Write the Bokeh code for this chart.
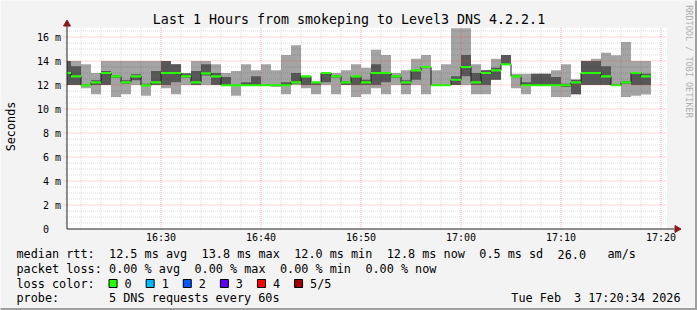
import numpy as np
from bokeh.plotting import figure
from bokeh.models import Range1d, Label, FixedTicker
from bokeh.embed import file_html
from bokeh.resources import INLINE

# ---------------- data (ms), one column per minute after 16:00 ----------------
minutes = list(range(20, 79))
rtt_min = [12.00, 12.00, 11.72, 11.22, 12.00, 11.00, 11.22, 12.00, 11.11, 12.00,
           11.72, 11.22, 12.00, 12.00, 12.00, 12.00, 11.97, 11.11, 11.97, 11.97,
           11.97, 11.83, 11.22, 12.00, 11.72, 11.22, 12.00, 11.22, 12.00, 11.00,
           11.22, 11.72, 11.22, 12.00, 11.22, 12.00, 11.22, 11.97, 11.97, 12.00,
           12.00, 11.22, 11.22, 12.44, 13.72, 11.72, 11.22, 11.97, 11.97, 11.00,
           11.00, 11.22, 12.00, 12.00, 12.00, 11.97, 11.00, 11.10, 11.20]
rtt_p2 = [12.00, 12.00, 11.95, 12.00, 12.00, 12.60, 12.10, 12.40, 11.95, 12.00,
          12.00, 12.22, 12.60, 12.00, 12.80, 12.00, 11.97, 11.95, 11.97, 11.97,
          11.97, 11.95, 11.97, 12.11, 12.00, 12.00, 12.22, 12.60, 12.00, 12.00,
          12.00, 12.00, 12.22, 12.60, 12.00, 12.44, 13.40, 11.97, 11.97, 12.00,
          12.72, 12.00, 12.00, 12.44, 13.72, 12.65, 11.97, 11.97, 11.97, 11.97,
          11.83, 11.22, 12.00, 12.00, 12.00, 11.97, 12.11, 12.00, 12.00]
rtt_median = [13.00, 12.72, 11.97, 12.22, 13.00, 12.72, 12.22, 12.72, 11.97, 12.22,
              13.00, 13.00, 12.72, 12.22, 12.97, 12.72, 11.98, 11.97, 11.98, 11.98,
              11.98, 11.98, 11.98, 12.22, 12.72, 12.22, 13.00, 12.72, 12.22, 12.72,
              12.22, 13.00, 13.00, 12.72, 12.22, 13.22, 13.50, 11.98, 11.98, 12.44,
              13.50, 12.22, 13.00, 13.22, 13.72, 12.72, 11.98, 11.98, 11.98, 11.98,
              11.98, 12.22, 13.00, 13.00, 12.72, 11.98, 12.22, 13.00, 12.72]
rtt_p4 = [14.00, 13.56, 12.05, 12.39, 13.17, 12.80, 12.40, 12.90, 12.11, 13.17,
          14.00, 13.72, 12.95, 13.17, 13.72, 13.00, 12.67, 12.00, 12.22, 12.72,
          12.00, 12.00, 12.22, 13.00, 12.74, 12.24, 13.00, 12.80, 12.33, 12.74,
          12.44, 13.72, 13.00, 12.80, 12.39, 13.24, 13.55, 12.00, 12.00, 12.72,
          14.50, 13.00, 13.22, 13.44, 14.50, 12.80, 12.22, 12.94, 12.94, 12.67,
          12.11, 12.44, 14.00, 14.00, 13.56, 12.05, 12.33, 13.00, 12.94]
rtt_max = [14.00, 14.00, 13.72, 13.00, 14.00, 14.00, 14.00, 14.00, 14.00, 14.00,
           14.00, 13.72, 13.00, 14.00, 14.00, 13.72, 13.00, 13.17, 13.72, 13.22,
           13.72, 13.22, 14.50, 15.31, 12.75, 12.25, 13.02, 13.00, 13.22, 13.72,
           13.44, 14.94, 14.50, 13.00, 13.22, 14.19, 14.50, 13.22, 13.72, 16.72,
           16.72, 13.72, 13.24, 14.19, 14.50, 12.94, 12.94, 12.94, 12.94, 13.22,
           13.72, 12.46, 14.02, 14.19, 14.69, 14.47, 15.58, 14.00, 14.00]

x_tick_minutes = [30, 40, 50, 60, 70, 80]
x_tick_labels = ["16:30", "16:40", "16:50", "17:00", "17:10", "17:20"]
y_ticks = [0, 2, 4, 6, 8, 10, 12, 14, 16]
y_tick_labels = ["0\u00a0\u00a0", "2 m", "4 m", "6 m", "8 m", "10 m", "12 m", "14 m", "16 m"]

loss_labels = ["0", "1", "2", "3", "4", "5/5"]
loss_colors = ["#26ff00", "#00b8ff", "#0059ff", "#5e00ff", "#ff0000", "#a10000"]

title_text = "Last 1 Hours from smokeping to Level3 DNS 4.2.2.1"
stats_rtt = ["median rtt:", "12.5 ms avg", "13.8 ms max", "12.0 ms min", "12.8 ms now", "0.5 ms sd", "26.0", "am/s"]
stats_loss = ["packet loss:", "0.00 % avg", "0.00 % max", "0.00 % min", "0.00 % now"]
probe_text = ["probe:", "5 DNS requests every 60s"]
date_text = ["Tue Feb", "3 17:20:34 2026"]

# ---------------- layout constants ----------------
W, H = 697, 310
MONO = "DejaVu Sans Mono"
T0 = 20.6           # graph starts ~16:20:36
SPAN = 60.0
TOP = 16.77
X0PX, Y0PX = 66.5, 228.5        # pixel of (T0, 0 ms)
PXMIN, PXMS = 10.0, 12.0        # px per minute, px per ms
CW = 7.12                       # legend character cell

p = figure(width=W, height=H, output_backend="svg", toolbar_location=None,
           x_range=Range1d(T0 - X0PX / PXMIN, T0 + (W - X0PX) / PXMIN),
           y_range=Range1d(-(H - Y0PX) / PXMS, Y0PX / PXMS),
           min_border=0, min_border_left=0, min_border_right=0, min_border_top=0, min_border_bottom=0)
p.title.visible = False
p.background_fill_color = "#f3f3f3"
p.border_fill_color = "#f3f3f3"
p.outline_line_color = None
p.xgrid.grid_line_color = None
p.ygrid.grid_line_color = None


def tx(px):
    return T0 + (px - X0PX) / PXMIN


def my(py):
    return (Y0PX - py) / PXMS


# frame shadow (right / bottom)
p.quad(left=[tx(694.5)], right=[tx(W + 2)], bottom=[my(H + 2)], top=[my(-2)], fill_color="#a0a0a0", line_color=None)
p.quad(left=[tx(-2)], right=[tx(W + 2)], bottom=[my(H + 2)], top=[my(307.5)], fill_color="#a0a0a0", line_color=None)

# canvas (white)
p.quad(left=[T0], right=[T0 + SPAN], bottom=[0], top=[TOP], fill_color="white", line_color=None)

m = np.array(minutes, dtype=float)
left = np.maximum(m, T0)
right = m + 1
med = np.array(rtt_median)

p.quad(left=left, right=right, bottom=rtt_min, top=rtt_max, fill_color="#a4a4a4", line_color=None)
p.quad(left=left, right=right, bottom=rtt_p2, top=rtt_p4, fill_color="#585858", line_color=None)

# grid
hmin = [v for v in np.arange(0.5, 16.75, 0.5) if v % 2 != 0]
hmaj = [v for v in np.arange(2, 16.1, 2)]
vmin = [v for v in range(22, 81, 2) if v % 10 != 0]
vmaj = [v for v in range(30, 81, 10)]
p.segment(x0=[tx(64.5)] * len(hmin), x1=[T0 + SPAN] * len(hmin), y0=hmin, y1=hmin,
          line_color="#000000", line_alpha=0.13, line_dash="1 1", line_width=1)
p.segment(x0=vmin, x1=vmin, y0=[0] * len(vmin), y1=[TOP] * len(vmin),
          line_color="#000000", line_alpha=0.13, line_dash="1 1", line_width=1)
p.segment(x0=[tx(63)] * len(hmaj), x1=[T0 + SPAN] * len(hmaj), y0=hmaj, y1=hmaj,
          line_color="#ff3030", line_alpha=0.42, line_dash="1 1", line_width=1)
p.segment(x0=vmaj, x1=vmaj, y0=[0] * len(vmaj), y1=[TOP] * len(vmaj),
          line_color="#ff3030", line_alpha=0.42, line_dash="1 1", line_width=1)

# median
p.step(x=left, y=med, mode="after", line_color="#202020", line_width=1)
p.quad(left=left, right=right, bottom=med - 0.085, top=med + 0.085, fill_color="#26ff00", line_color=None)

# axes lines + arrows
p.segment(x0=[T0], x1=[T0], y0=[0], y1=[my(25)], line_color="#202020", line_width=1)
p.segment(x0=[T0], x1=[tx(674)], y0=[0], y1=[0], line_color="#202020", line_width=1)
p.scatter(x=[T0], y=[my(23.5)], marker="triangle", size=7, fill_color="#8b1a1a", line_color="#8b1a1a")
p.scatter(x=[tx(676.5)], y=[0], marker="triangle", size=7, angle=-np.pi / 2,
          fill_color="#8b1a1a", line_color="#8b1a1a")

# tick labels (axes fixed inside the full-canvas frame)
for ax in (p.xaxis[0], p.yaxis[0]):
    ax.axis_line_color = None
    ax.major_tick_line_color = None
    ax.minor_tick_line_color = None
    ax.major_tick_out = 0
    ax.major_tick_in = 0
    ax.minor_tick_out = 0
    ax.minor_tick_in = 0
    ax.major_label_text_font = MONO
    ax.major_label_text_font_size = "10px"
    ax.major_label_text_color = "#000000"
p.xaxis[0].fixed_location = 0
p.xaxis[0].ticker = FixedTicker(ticks=x_tick_minutes)
p.xaxis[0].major_label_overrides = dict(zip(x_tick_minutes, x_tick_labels))
p.xaxis[0].major_label_standoff = 3
p.yaxis[0].fixed_location = T0
p.yaxis[0].ticker = FixedTicker(ticks=y_ticks)
p.yaxis[0].major_label_overrides = dict(zip(y_ticks, y_tick_labels))
p.yaxis[0].major_label_standoff = 6


def lab(text, x, y, size="11.8px", align="left", angle=0.0, color="#000000"):
    p.add_layout(Label(text=text, x=x, y=H - y, x_units="screen", y_units="screen",
                       text_font=MONO, text_font_size=size, text_align=align,
                       text_baseline="middle", angle=angle, text_color=color))


lab(title_text, 348.5, 19, size="13.3px", align="center")
lab("Seconds", 10, 126, align="center", angle=np.pi / 2)
lab("RRDTOOL / TOBI OETIKER", 688, 61, size="8.5px", align="center", angle=-np.pi / 2, color="#b0b0b0")

LX = 16
for t, c in zip(stats_rtt, [0, 13, 26, 39, 52, 65, 76, 83]):
    lab(t, LX + c * CW, 253.5)
for t, c in zip(stats_loss, [0, 13, 25, 37, 49]):
    lab(t, LX + c * CW, 268.5)
lab("loss color:", LX, 283)
lab(probe_text[0], LX, 297.5)
lab(probe_text[1], LX + 13 * CW, 297.5)
lab(date_text[0], 680 - 24 * 7.05, 297.5)
lab(date_text[1], 680, 297.5, align="right")

# loss colour swatches
for k, (ll, cc) in enumerate(zip(loss_labels, loss_colors)):
    bx = LX + 13 * CW + k * 37.1
    p.quad(left=[tx(bx)], right=[tx(bx + 8)], bottom=[my(287)], top=[my(279)],
           fill_color=cc, line_color="#000000", line_width=1)
    lab(ll, bx + 15.5, 283)

open("out.html", "w").write(file_html(p, INLINE))
